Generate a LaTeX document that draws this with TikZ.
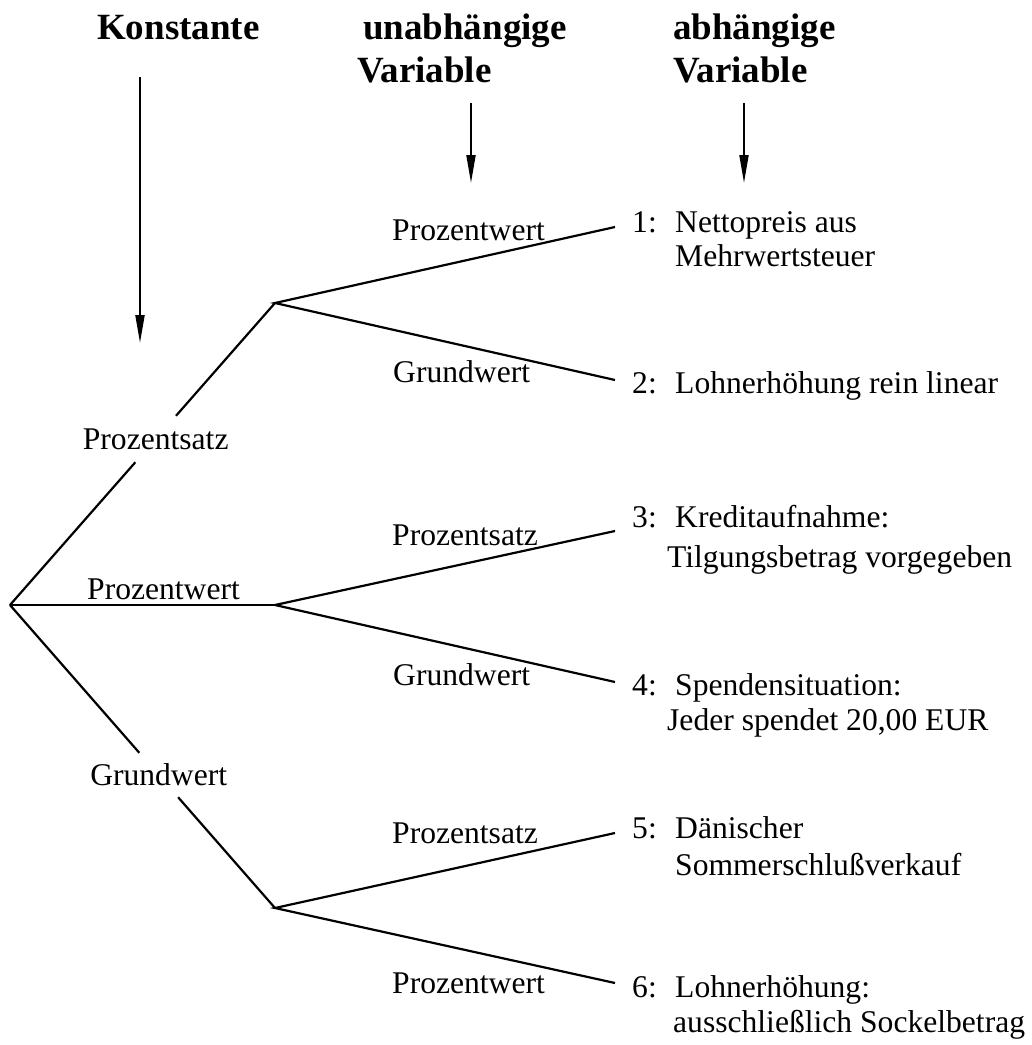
\documentclass[tikz,border=0pt]{standalone}
\usepackage{fontspec}
\setmainfont{Liberation Serif}
\usetikzlibrary{arrows.meta}
\begin{document}
\begin{tikzpicture}[x=1pt,y=-1pt,
  lbl/.style={inner sep=0pt, anchor=base west, font=\fontsize{31.6}{36}\selectfont},
  ttl/.style={inner sep=0pt, anchor=base west, font=\fontsize{37}{43}\selectfont\bfseries},
  gaplbl/.style={inner sep=0pt, font=\fontsize{31.6}{36}\selectfont},
  edge/.style={line width=2.2pt, line join=miter},
  arr/.style={line width=2pt, -{Triangle[length=28pt,width=9pt]}}]
\useasboundingbox (0,0) rectangle (1032,1045);
% titles
\node[ttl] (k) at (97,39) {Konstante};
\node[ttl] (u1) at (363,39) {unabhängige};
\node[ttl] (u2) at (357,82) {Variable};
\node[ttl] (ab1) at (673,39) {abhängige};
\node[ttl] (ab2) at (673,82) {Variable};
% arrows
\coordinate (a1s) at (140,77);  \coordinate (a1e) at (140,343);
\coordinate (a2s) at (471,103); \coordinate (a2e) at (471,183);
\coordinate (a3s) at (744,103); \coordinate (a3e) at (744,183);
\draw[arr] (a1s) -- (a1e);
\draw[arr] (a2s) -- (a2e);
\draw[arr] (a3s) -- (a3e);
% tree points
\coordinate (root) at (10,605);
\coordinate (s1) at (275,303);
\coordinate (s2) at (275,605);
\coordinate (s3) at (275,908);
\coordinate (e1) at (615,227);
\coordinate (e2) at (615,380);
\coordinate (e3) at (615,531);
\coordinate (e4) at (615,682);
\coordinate (e5) at (615,833);
\coordinate (e6) at (615,983);
% first level labels
\node[gaplbl, minimum height=46pt] (pA) at (155.7,439) {Prozentsatz};
\node[lbl] (pB) at (87,599) {Prozentwert};
\node[gaplbl, minimum height=44pt] (pC) at (158.7,775) {Grundwert};
% first level edges
\draw[edge] (root) -- (pA);
\draw[edge] (pA) -- (s1);
\draw[edge] (root) -- (s2);
\draw[edge] (root) -- (pC);
\draw[edge] (pC) -- (s3);
% second level edges
\draw[edge] (e1) -- (s1) -- (e2);
\draw[edge] (e3) -- (s2) -- (e4);
\draw[edge] (e5) -- (s3) -- (e6);
% second level labels
\node[lbl] (q1) at (392,240) {Prozentwert};
\node[lbl] (q2) at (393,382) {Grundwert};
\node[lbl] (q3) at (392,545) {Prozentsatz};
\node[lbl] (q4) at (393,685) {Grundwert};
\node[lbl] (q5) at (392,843) {Prozentsatz};
\node[lbl] (q6) at (392,993) {Prozentwert};
% results
\node[lbl] (n1) at (632,232) {1:};
\node[lbl] (r1a) at (675,232) {Nettopreis aus};
\node[lbl] (r1b) at (675,266) {Mehrwertsteuer};
\node[lbl] (n2) at (632,393) {2:};
\node[lbl] (r2a) at (675,393) {Lohnerhöhung rein linear};
\node[lbl] (n3) at (632,527) {3:};
\node[lbl] (r3a) at (675,527) {Kreditaufnahme:};
\node[lbl] (r3b) at (667,567) {Tilgungsbetrag vorgegeben};
\node[lbl] (n4) at (632,695) {4:};
\node[lbl] (r4a) at (675,695) {Spendensituation:};
\node[lbl] (r4b) at (667,730) {Jeder spendet 20,00 EUR};
\node[lbl] (n5) at (632,838) {5:};
\node[lbl] (r5a) at (675,838) {Dänischer};
\node[lbl] (r5b) at (675,875) {Sommerschlußverkauf};
\node[lbl] (n6) at (632,997) {6:};
\node[lbl] (r6a) at (675,997) {Lohnerhöhung:};
\node[lbl] (r6b) at (673,1032) {ausschließlich Sockelbetrag};
\end{tikzpicture}
\end{document}
